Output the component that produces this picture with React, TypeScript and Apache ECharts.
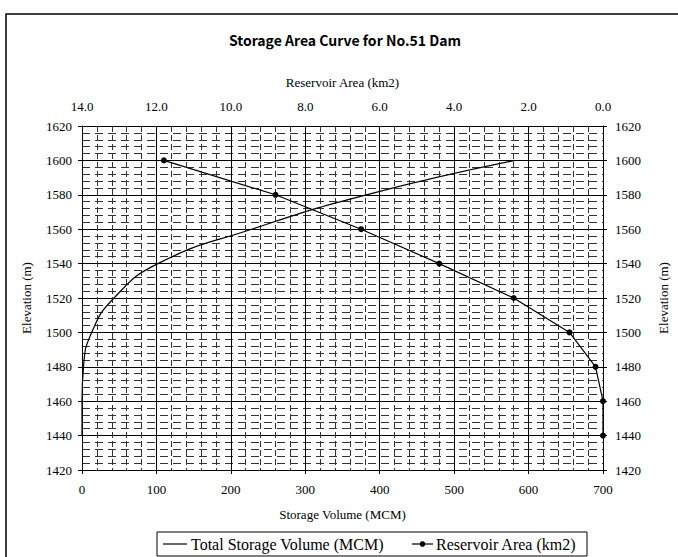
import React, { useEffect, useRef } from "react";
import * as echarts from "echarts";

// Elevation levels (m) shared by both curves
const elevations = [1440, 1460, 1480, 1500, 1520, 1540, 1560, 1580, 1600];
// Cumulative storage volume at each elevation (MCM)
const storageVolume = [0, 0, 2, 13, 43, 102, 228, 382, 582];
// Water surface area at each elevation (km2)
const reservoirArea = [0.0, 0.0, 0.2, 0.9, 2.4, 4.4, 6.5, 8.8, 11.8];

const titleText = "Storage Area Curve for No.51 Dam";
const volumeName = "Total Storage Volume (MCM)";
const areaName = "Reservoir Area (km2)";

const SERIF = "Liberation Serif";
const GOTHIC = "Noto Sans CJK JP";

export default function App() {
  const ref = useRef<HTMLDivElement>(null);

  useEffect(() => {
    if (!ref.current) return;
    const chart = echarts.init(ref.current, undefined, { renderer: "svg" });

    const labelStyle = { color: "#000", fontFamily: SERIF, fontSize: 13 };
    const nameStyle = { color: "#000", fontFamily: SERIF, fontSize: 13 };
    const legendText = {
      fontFamily: SERIF,
      fontSize: 16,
      fill: "#000",
      verticalAlign: "middle" as const,
      align: "left" as const,
    };
    const legendY = 544;

    chart.setOption({
      animation: false,
      backgroundColor: "#fff",
      textStyle: { fontFamily: SERIF, color: "#000" },
      graphic: [
        {
          type: "rect",
          shape: { x: 6, y: 14, width: 720, height: 620 },
          style: { fill: "none", stroke: "#000", lineWidth: 1.5 },
          silent: true,
        },
        {
          type: "text",
          x: 345,
          y: 40,
          style: {
            text: titleText,
            align: "center",
            verticalAlign: "middle",
            fontFamily: GOTHIC,
            fontWeight: "bold",
            fontSize: 14,
            fill: "#000",
          },
        },
        // legend box
        {
          type: "rect",
          shape: { x: 157, y: 532, width: 430, height: 24 },
          style: { fill: "#fff", stroke: "#000", lineWidth: 1 },
          silent: true,
        },
        {
          type: "line",
          shape: { x1: 163, y1: legendY, x2: 187, y2: legendY },
          style: { stroke: "#000", lineWidth: 1.2 },
        },
        {
          type: "text",
          x: 191,
          y: legendY,
          style: { ...legendText, text: volumeName },
        },
        {
          type: "line",
          shape: { x1: 412, y1: legendY, x2: 433, y2: legendY },
          style: { stroke: "#000", lineWidth: 1.2 },
        },
        {
          type: "circle",
          shape: { cx: 422.5, cy: legendY, r: 2.8 },
          style: { fill: "#000" },
        },
        {
          type: "text",
          x: 436,
          y: legendY,
          style: { ...legendText, text: areaName },
        },
      ],
      grid: { left: 82, right: 69, top: 126, bottom: 87, containLabel: false },
      xAxis: [
        {
          type: "value",
          position: "bottom",
          min: 0,
          max: 700,
          interval: 100,
          name: "Storage Volume (MCM)",
          nameLocation: "middle",
          nameGap: 38,
          nameTextStyle: nameStyle,
          axisLine: { show: true, lineStyle: { color: "#000", width: 1 } },
          axisTick: { show: true, length: 4, lineStyle: { color: "#000" } },
          axisLabel: { ...labelStyle, margin: 13, formatter: (v: number) => String(v) },
          splitLine: { show: true, lineStyle: { color: "#000", width: 1 } },
          minorTick: { show: false, splitNumber: 5 },
          minorSplitLine: {
            show: true,
            lineStyle: { color: "#333", width: 1, type: [6, 3] },
          },
        },
        {
          type: "value",
          position: "top",
          min: 0,
          max: 14,
          interval: 2,
          inverse: true,
          name: "Reservoir Area (km2)",
          nameLocation: "middle",
          nameGap: 37,
          nameTextStyle: nameStyle,
          axisLine: { show: true, onZero: false, lineStyle: { color: "#000", width: 1 } },
          axisTick: { show: false },
          axisLabel: {
            ...labelStyle,
            margin: 13,
            formatter: (v: number) => v.toFixed(1),
          },
          splitLine: { show: false },
        },
      ],
      yAxis: [
        {
          type: "value",
          position: "left",
          min: 1420,
          max: 1620,
          interval: 20,
          name: "Elevation (m)",
          nameLocation: "middle",
          nameRotate: 90,
          nameGap: 49,
          nameTextStyle: nameStyle,
          axisLine: { show: true, onZero: false, lineStyle: { color: "#000", width: 1 } },
          axisTick: { show: true, length: 4, lineStyle: { color: "#000" } },
          axisLabel: { ...labelStyle, margin: 10, formatter: (v: number) => String(v) },
          splitLine: { show: true, lineStyle: { color: "#000", width: 1 } },
          minorTick: { show: false, splitNumber: 5 },
          minorSplitLine: {
            show: true,
            lineStyle: { color: "#333", width: 1, type: [8, 5] },
          },
        },
        {
          type: "value",
          position: "right",
          min: 1420,
          max: 1620,
          interval: 20,
          name: "Elevation (m)",
          nameLocation: "middle",
          nameRotate: 90,
          nameGap: 54,
          nameTextStyle: nameStyle,
          axisLine: { show: true, onZero: false, lineStyle: { color: "#000", width: 1 } },
          axisTick: { show: true, length: 4, lineStyle: { color: "#000" } },
          axisLabel: { ...labelStyle, margin: 12, formatter: (v: number) => String(v) },
          splitLine: { show: false },
        },
      ],
      series: [
        {
          name: volumeName,
          type: "line",
          xAxisIndex: 0,
          yAxisIndex: 0,
          smooth: 0.5,
          symbol: "none",
          lineStyle: { color: "#000", width: 1.2 },
          itemStyle: { color: "#000" },
          data: elevations.map((e, i) => [storageVolume[i], e]),
          z: 5,
        },
        {
          name: areaName,
          type: "line",
          xAxisIndex: 1,
          yAxisIndex: 0,
          symbol: "circle",
          symbolSize: 6,
          showSymbol: true,
          lineStyle: { color: "#000", width: 1.2 },
          itemStyle: { color: "#000" },
          data: elevations.map((e, i) => [reservoirArea[i], e]),
          z: 5,
        },
      ],
    });

    return () => chart.dispose();
  }, []);

  return (
    <div
      ref={ref}
      style={{ position: "absolute", left: 0, top: 0, width: 678, height: 557 }}
    />
  );
}
